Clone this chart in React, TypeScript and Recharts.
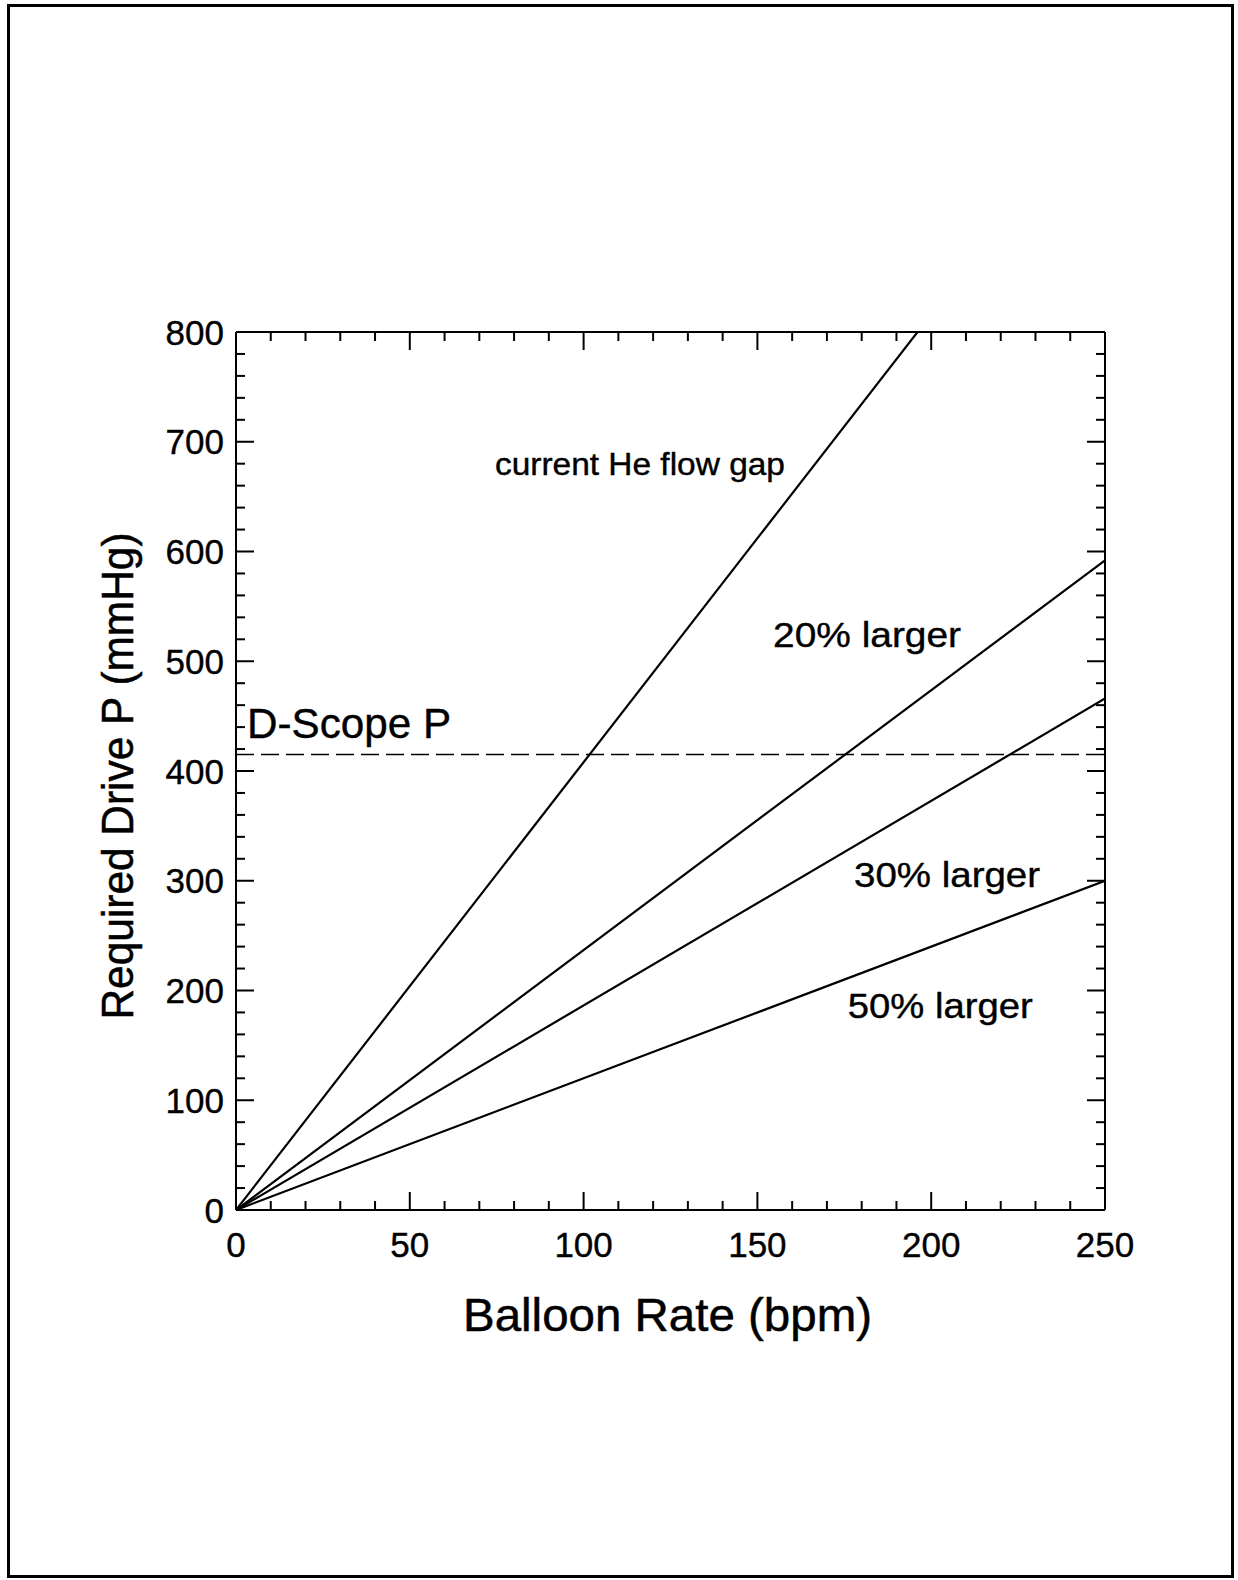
import React from 'react';
import { LineChart, Line, XAxis, YAxis, ReferenceDot } from 'recharts';

// balloon rate (bpm) -> required drive pressure (mmHg)
const rates = [0, 250];
const currentGap = [0, 1020];
const larger20 = [0, 592];
const larger30 = [0, 466];
const larger50 = [0, 300];
const dScope = [415, 415];

const xMajorTicks = [0, 50, 100, 150, 200, 250];
const xTicks = [0, 10, 20, 30, 40, 50, 60, 70, 80, 90, 100, 110, 120, 130, 140, 150, 160, 170, 180, 190, 200, 210, 220, 230, 240, 250];
const yMajorTicks = [0, 100, 200, 300, 400, 500, 600, 700, 800];
const yTicks = [0, 20, 40, 60, 80, 100, 120, 140, 160, 180, 200, 220, 240, 260, 280, 300, 320, 340, 360, 380, 400, 420, 440, 460, 480, 500, 520, 540, 560, 580, 600, 620, 640, 660, 680, 700, 720, 740, 760, 780, 800];

const notes = [
  { text: 'current He flow gap', x: 74.5, y: 670, size: 31, len: 290 },
  { text: '20% larger', x: 154.5, y: 513, size: 35, len: 188 },
  { text: '30% larger', x: 177.8, y: 294, size: 35, len: 186 },
  { text: '50% larger', x: 176, y: 174.5, size: 35, len: 185 },
  { text: 'D-Scope P', x: 3.2, y: 430, size: 43, len: 204 },
];

const FONT = '"Liberation Sans", Arial, Helvetica, sans-serif';
const MAJOR = 18;
const MINOR = 9;

const data = rates.map((r, i) => ({
  rate: r,
  current: currentGap[i],
  l20: larger20[i],
  l30: larger30[i],
  l50: larger50[i],
  dscope: dScope[i],
}));

const axisLine = { stroke: '#000', strokeWidth: 2 };

// ticks point into the plot; majors get a label on the left / bottom side
function makeTick(side: 'left' | 'right' | 'top' | 'bottom', majors: number[]) {
  return (props: any) => {
    const { x, y, payload } = props;
    const v = payload.value;
    const major = majors.includes(v);
    const len = major ? MAJOR : MINOR;
    let x2 = x, y2 = y;
    if (side === 'left') x2 = x + len;
    if (side === 'right') x2 = x - len;
    if (side === 'bottom') y2 = y - len;
    if (side === 'top') y2 = y + len;
    return (
      <g>
        <line x1={x} y1={y} x2={x2} y2={y2} stroke="#000" strokeWidth={2} />
        {major && side === 'left' && (
          <text x={x - 12} y={y + 12.5} textAnchor="end" fontSize={35} fontFamily={FONT} fill="#000" stroke="#000" strokeWidth={0.4}>{v}</text>
        )}
        {major && side === 'bottom' && (
          <text x={x} y={y + 47} textAnchor="middle" fontSize={35} fontFamily={FONT} fill="#000" stroke="#000" strokeWidth={0.4}>{v}</text>
        )}
      </g>
    );
  };
}

export default function App() {
  return (
    <div style={{ position: 'absolute', left: 0, top: 0, width: 1238, height: 1580, background: '#fff' }}>
      <LineChart width={1238} height={1580} data={data} margin={{ top: 331, left: 235, right: 132, bottom: 369 }}>
        <XAxis xAxisId="x" dataKey="rate" type="number" domain={[0, 250]} allowDataOverflow ticks={xTicks} interval={0}
          height={1} tickSize={0} tickMargin={0} tickLine={false} axisLine={axisLine} tick={makeTick('bottom', xMajorTicks)} />
        <XAxis xAxisId="xt" orientation="top" dataKey="rate" type="number" domain={[0, 250]} allowDataOverflow ticks={xTicks} interval={0}
          height={1} tickSize={0} tickMargin={0} tickLine={false} axisLine={axisLine} tick={makeTick('top', xMajorTicks)} />
        <YAxis yAxisId="y" type="number" domain={[0, 800]} allowDataOverflow ticks={yTicks} interval={0}
          width={1} tickSize={0} tickMargin={0} tickLine={false} axisLine={axisLine} tick={makeTick('left', yMajorTicks)} />
        <YAxis yAxisId="yr" orientation="right" type="number" domain={[0, 800]} allowDataOverflow ticks={yTicks} interval={0}
          width={1} tickSize={0} tickMargin={0} tickLine={false} axisLine={axisLine} tick={makeTick('right', yMajorTicks)} />

        <Line xAxisId="x" yAxisId="y" type="linear" dataKey="dscope" stroke="#000" strokeWidth={1.6} strokeDasharray="18 7" dot={false} isAnimationActive={false} />
        <Line xAxisId="x" yAxisId="y" type="linear" dataKey="current" stroke="#000" strokeWidth={2.2} dot={false} isAnimationActive={false} />
        <Line xAxisId="x" yAxisId="y" type="linear" dataKey="l20" stroke="#000" strokeWidth={2.2} dot={false} isAnimationActive={false} />
        <Line xAxisId="x" yAxisId="y" type="linear" dataKey="l30" stroke="#000" strokeWidth={2.2} dot={false} isAnimationActive={false} />
        <Line xAxisId="x" yAxisId="y" type="linear" dataKey="l50" stroke="#000" strokeWidth={2.2} dot={false} isAnimationActive={false} />

        {notes.map((n) => (
          <ReferenceDot key={n.text} xAxisId="x" yAxisId="y" x={n.x} y={n.y} ifOverflow="visible"
            shape={(p: any) => (
              <text x={p.cx} y={p.cy} fontSize={n.size} fontFamily={FONT} fill="#000" stroke="#000" strokeWidth={0.4}
                textLength={n.len} lengthAdjust="spacingAndGlyphs">{n.text}</text>
            )} />
        ))}
      </LineChart>

      {/* page frame and axis titles */}
      <svg width={1238} height={1580} style={{ position: 'absolute', left: 0, top: 0, pointerEvents: 'none' }}>
        <rect x={8.5} y={5.5} width={1224} height={1571} fill="none" stroke="#000" strokeWidth={3} />
        <text x={667.5} y={1331} textAnchor="middle" fontSize={46} fontFamily={FONT} fill="#000" stroke="#000" strokeWidth={0.5}
          textLength={409} lengthAdjust="spacingAndGlyphs">Balloon Rate (bpm)</text>
        <text x={133} y={776} transform="rotate(-90 133 776)" textAnchor="middle" fontSize={44} fontFamily={FONT} fill="#000" stroke="#000" strokeWidth={0.5}
          textLength={487} lengthAdjust="spacingAndGlyphs">Required Drive P (mmHg)</text>
      </svg>
    </div>
  );
}
